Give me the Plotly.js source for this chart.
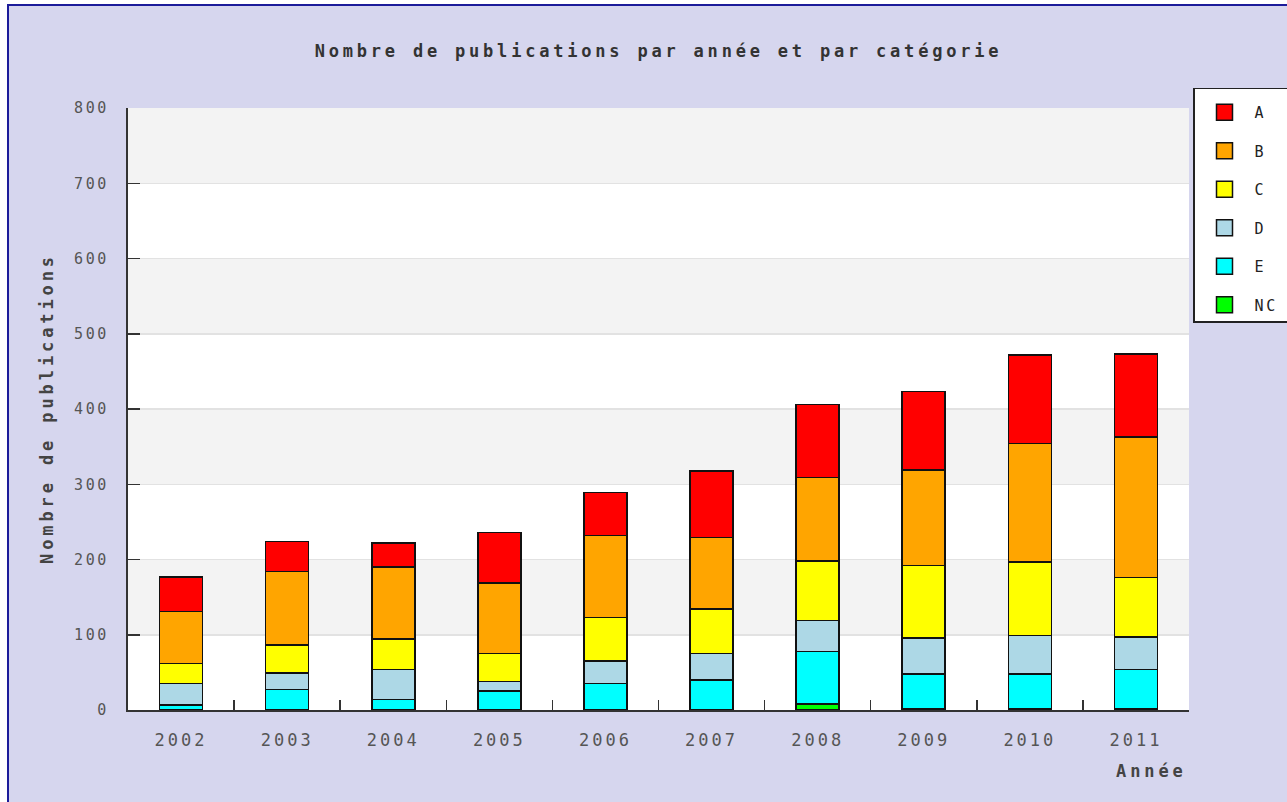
<!DOCTYPE html>
<html>
<head>
<meta charset="utf-8">
<script src="https://cdn.plot.ly/plotly-3.0.1.min.js"></script>
<style>
  html, body { margin: 0; padding: 0; background: #ffffff; overflow: hidden; }
  #frame { position: absolute; left: 7px; top: 4px; width: 1280px; height: 798px;
           border-left: 2px solid #1c1c9a; border-top: 2px solid #1c1c9a; overflow: hidden; }
  #chart { width: 1278px; height: 796px; }
  .gtitle { letter-spacing: 3.8px; }
  .xtick text { letter-spacing: 3.0px; }
  .ytick text { letter-spacing: 2.6px; }
  .legendtext { letter-spacing: 2.6px; }
  .annotation-text { letter-spacing: 3.9px; }
</style>
</head>
<body>
<div id="frame"><div id="chart"></div></div>
<script>
const years = ["2002","2003","2004","2005","2006","2007","2008","2009","2010","2011"];
const catA  = [46, 40, 32, 67, 57, 89, 97, 104, 118, 110];
const catB  = [69, 98, 96, 94, 109, 95, 111, 127, 157, 187];
const catC  = [27, 37, 40, 37, 58, 59, 79, 96, 98, 79];
const catD  = [28, 22, 40, 13, 30, 35, 41, 48, 51, 43];
const catE  = [7, 27, 14, 25, 35, 40, 70, 47, 47, 53];
const catNC = [0, 0, 0, 0, 0, 0, 8, 1, 1, 1];
const yTicks = [0, 100, 200, 300, 400, 500, 600, 700, 800];

const series = [
  {name: "NC", values: catNC, color: "#00ff00"},
  {name: "E",  values: catE,  color: "#00ffff"},
  {name: "D",  values: catD,  color: "#add8e6"},
  {name: "C",  values: catC,  color: "#ffff00"},
  {name: "B",  values: catB,  color: "#ffa500"},
  {name: "A",  values: catA,  color: "#ff0000"}
];

const traces = [];
series.forEach(s => {
  traces.push({
    type: "bar", x: years, y: s.values, name: s.name, showlegend: false,
    marker: {color: s.color, line: {color: "#111111", width: 1.6}},
    hoverinfo: "x+y+name"
  });
});
series.slice().reverse().forEach(s => {
  traces.push({
    type: "scatter", mode: "markers", x: [null], y: [null], name: s.name,
    legendgroup: s.name, showlegend: true,
    marker: {symbol: "square", size: 16, color: s.color, line: {color: "#111111", width: 1.5}}
  });
});

const shapes = [];
for (let i = 1; i < yTicks.length; i += 2) {
  shapes.push({type: "rect", xref: "paper", yref: "y", x0: 0, x1: 1,
    y0: yTicks[i], y1: yTicks[i + 1], fillcolor: "#f3f3f3", line: {width: 0}, layer: "below"});
}

const layout = {
  width: 1278, height: 796,
  paper_bgcolor: "#d6d6ee",
  plot_bgcolor: "#ffffff",
  margin: {l: 119, r: 98, t: 102, b: 92, autoexpand: false},
  barmode: "stack",
  bargap: 0.595,
  title: {
    text: "Nombre de publications par année et par catégorie",
    font: {family: "DejaVu Sans Mono", size: 17, color: "#333333", weight: "bold"},
    x: 0.5, xref: "paper", xanchor: "center",
    y: 1 - 45 / 796, yref: "container", yanchor: "middle"
  },
  xaxis: {
    type: "category",
    tickson: "boundaries", ticks: "inside", ticklen: 10, tickwidth: 1.5, tickcolor: "#333333",
    showline: true, linecolor: "#333333", linewidth: 2,
    showgrid: false,
    tickfont: {family: "DejaVu Sans Mono", size: 17, color: "#555555"},
    ticklabelstandoff: 14,
    fixedrange: true
  },
  yaxis: {
    range: [0, 800], tickvals: yTicks, ticktext: yTicks.map(String),
    ticks: "inside", ticklen: 12, tickwidth: 1.5, tickcolor: "#333333",
    showline: true, linecolor: "#333333", linewidth: 2,
    showgrid: true, gridcolor: "#e2e2e2", gridwidth: 1.5,
    zeroline: false,
    tickfont: {family: "DejaVu Sans Mono", size: 15, color: "#555555"},
    ticklabelstandoff: 14,
    fixedrange: true
  },
  shapes: shapes,
  annotations: [
    {text: "Nombre de publications", xref: "paper", yref: "paper", x: 0, y: 0.5,
     xshift: -81, textangle: -90, showarrow: false, xanchor: "center", yanchor: "middle",
     font: {family: "DejaVu Sans Mono", size: 17, color: "#444444", weight: "bold"}},
    {text: "Année", xref: "paper", yref: "paper", x: 1, y: 0, yshift: -61,
     showarrow: false, xanchor: "right", yanchor: "middle",
     font: {family: "DejaVu Sans Mono", size: 17, color: "#444444", weight: "bold"}}
  ],
  legend: {
    x: (1184 - 119) / (1278 - 119 - 98), y: 1 + (702 - 81 - 601) / 601,
    xanchor: "left", yanchor: "top",
    bgcolor: "#ffffff", bordercolor: "#222222", borderwidth: 1.5,
    traceorder: "grouped", tracegroupgap: 16,
    title: {text: "\u00a0".repeat(40), font: {family: "DejaVu Sans Mono", size: 5}},
    itemwidth: 50,
    font: {family: "DejaVu Sans Mono", size: 15, color: "#222222"}
  },
  showlegend: true
};

Plotly.newPlot("chart", traces, layout, {displayModeBar: false, staticPlot: true});
</script>
</body>
</html>
